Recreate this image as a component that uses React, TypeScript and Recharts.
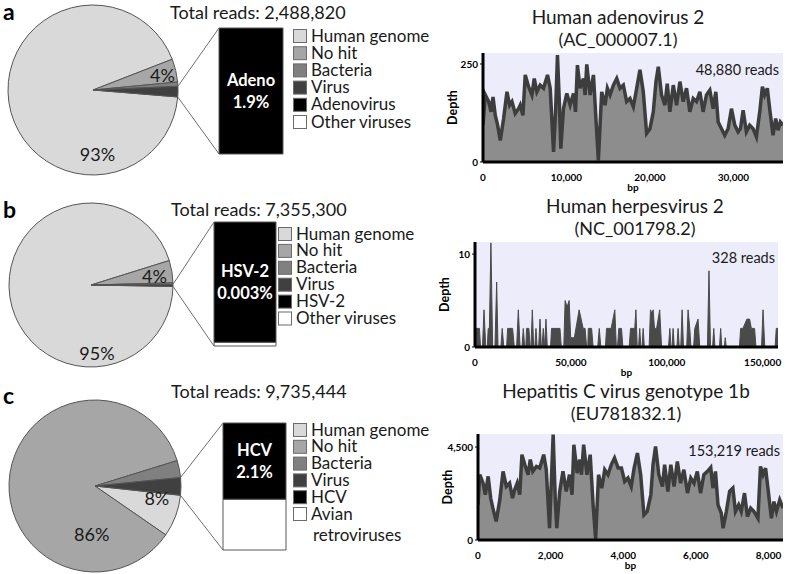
import React from 'react';
import { PieChart, Pie, Cell, BarChart, Bar, XAxis, YAxis, AreaChart, Area, CartesianGrid } from 'recharts';

const FONT = 'Lato, "Noto Sans", sans-serif';

// share of total reads (%), drawn clockwise from the lower edge of the virus wedge
const readCategories = ['Human genome', 'No hit', 'Bacteria', 'Virus'];
const sliceColors = ['#d9d9d9', '#a6a6a6', '#808080', '#404040'];
const sharesA = [92.8, 4.4, 0.8, 2.0];
const sharesB = [94.9, 4.4, 0.3, 0.4];
const sharesC = [7.9, 85.6, 3.2, 3.3];

// split of the viral reads (%): [target virus, other viruses]
const virusSplitA = [100, 0];
const virusSplitB = [97, 3];
const virusSplitC = [60, 40];

const legendA = [...readCategories, 'Adenovirus', 'Other viruses'];
const legendB = [...readCategories, 'HSV-2', 'Other viruses'];
const legendC = [...readCategories, 'HCV', 'Avian retroviruses'];
const legendColors = [...sliceColors, '#000000', '#ffffff'];

// coverage depth along the genome: [bp, depth]
const adenoCoverage = [
  [0, 95], [280, 171], [680, 154], [960, 128], [1200, 166], [1470, 119], [1750, 94], [2070, 55],
  [2470, 111], [2870, 179], [3190, 145], [3470, 154], [3860, 124], [4260, 136], [4460, 145], [4780, 119],
  [5060, 222], [5460, 192], [5860, 171], [6140, 213], [6450, 179], [6850, 196], [7250, 188], [7730, 222],
  [8050, 188], [8450, 26], [8690, 128], [8920, 273], [9160, 145], [9320, 34], [9640, 136], [10040, 175],
  [10440, 145], [10840, 175], [11080, 128], [11310, 247], [11630, 188], [12030, 213], [12230, 171], [12430, 249],
  [12830, 171], [13230, 222], [13550, 102], [13820, 4], [14220, 179], [14620, 145], [14900, 188], [15220, 171],
  [15620, 196], [16020, 213], [16410, 188], [16810, 196], [17210, 154], [17610, 162], [18010, 141], [18410, 188],
  [18800, 235], [19200, 179], [19600, 73], [20000, 85], [20400, 128], [20720, 205], [21000, 243], [21390, 171],
  [21790, 145], [22070, 200], [22390, 128], [22790, 196], [23190, 145], [23590, 205], [23980, 154], [24380, 188],
  [24780, 128], [25180, 162], [25580, 154], [25980, 179], [26370, 128], [26770, 171], [27170, 183], [27570, 136],
  [27890, 179], [28170, 102], [28570, 85], [28960, 68], [29360, 85], [29760, 136], [30160, 94], [30560, 77],
  [30840, 85], [31160, 132], [31550, 77], [31950, 94], [32350, 85], [32750, 64], [33150, 128], [33470, 192],
  [33740, 171], [34060, 188], [34340, 136], [34740, 68], [35060, 111], [35340, 81], [35620, 102], [35937, 94],
];

const hsvCoverage = [
  [0, 0], [500, 2], [2300, 2], [2900, 0], [3900, 0], [4700, 4], [5600, 0],
  [6400, 0], [6900, 2], [7500, 2], [8300, 11.2], [9200, 0], [10400, 0], [11300, 7], [12000, 0],
  [13500, 0], [14200, 2], [15000, 0], [16500, 0], [17000, 2], [19600, 2], [20500, 0],
  [21700, 0], [22600, 4], [23500, 0], [24500, 0], [25200, 2], [25900, 0],
  [26500, 0], [26900, 2], [28100, 2], [28800, 0], [29200, 0], [29900, 4], [30600, 0],
  [31200, 0], [31800, 2], [32400, 0], [33200, 0], [33900, 3], [34600, 0],
  [35000, 0], [35600, 2], [36300, 0], [37000, 3], [37700, 0], [39400, 0], [39900, 2], [44300, 2], [45000, 0],
  [46300, 0], [47000, 5], [48000, 4.3], [49100, 5], [49900, 1], [51800, 1], [54300, 4], [56400, 2], [57400, 2], [58200, 0],
  [58800, 0], [59100, 2], [60800, 2], [61600, 0], [64000, 0], [64800, 2], [65600, 0],
  [68000, 0], [68600, 2], [71000, 2], [72900, 4], [73700, 0], [74300, 0], [75000, 2], [76400, 2], [77100, 0],
  [80400, 0], [81100, 2], [83300, 2], [83900, 4], [84600, 0], [85300, 0], [85900, 2], [86500, 0],
  [87100, 0], [87700, 2], [88300, 0], [90800, 0], [91500, 4], [92200, 3.6], [92900, 4], [93600, 2], [94700, 2], [96300, 4], [97300, 0],
  [100900, 0], [101600, 2], [102200, 0], [102800, 0], [103300, 2], [103900, 0], [105300, 0], [105900, 2], [106500, 0],
  [107300, 0], [108000, 4], [108700, 0], [110400, 0], [111100, 4], [112000, 2], [112600, 0],
  [114000, 0], [114600, 2], [116300, 3], [117200, 0], [121200, 0], [122000, 8.2], [122800, 0],
  [123900, 0], [124500, 2], [125100, 0], [127500, 0], [128100, 2], [128700, 0], [130000, 0], [130500, 1], [131000, 0],
  [137900, 0], [138500, 2], [139700, 2], [141800, 3], [143200, 3], [144100, 2], [145800, 2], [146500, 0],
  [149400, 0], [150200, 4], [151100, 0], [156500, 0], [157100, 2], [158000, 2],
];

const hcvCoverage = [
  [0, 1700], [50, 3160], [140, 2750], [200, 2190], [280, 3080], [350, 2020], [410, 1540], [500, 900],
  [600, 1940], [690, 3320], [780, 2590], [870, 2750], [950, 2020], [1010, 2430], [1080, 2750], [1150, 2190],
  [1210, 4130], [1290, 3640], [1380, 3160], [1440, 3890], [1510, 3320], [1610, 3560], [1700, 3480], [1810, 4130],
  [1880, 3400], [1970, 570], [2070, 5100], [2130, 1860], [2170, 570], [2250, 2350], [2340, 3320], [2430, 2350],
  [2520, 3160], [2590, 2190], [2640, 4610], [2730, 3240], [2800, 3890], [2850, 3160], [2910, 4610], [3000, 3160],
  [3090, 4130], [3170, 1700], [3240, 60], [3320, 3160], [3410, 2510], [3490, 3400], [3580, 3160], [3670, 3640],
  [3760, 3970], [3860, 3480], [3950, 3480], [4040, 2830], [4130, 3000], [4220, 2590], [4300, 3480], [4390, 4210],
  [4480, 3160], [4570, 1210], [4660, 1380], [4760, 2190], [4820, 3640], [4890, 4530], [4980, 3160], [5080, 2590],
  [5140, 3640], [5230, 2350], [5310, 3640], [5400, 2590], [5490, 3800], [5580, 2750], [5670, 3400], [5770, 2270],
  [5860, 3000], [5950, 2750], [6040, 3320], [6130, 2270], [6220, 3160], [6320, 3320], [6410, 3510], [6470, 2510],
  [6540, 3320], [6610, 1700], [6700, 1300], [6750, 570], [6840, 1380], [6930, 2350], [7020, 2510], [7090, 1380],
  [7180, 1700], [7250, 1380], [7340, 2270], [7420, 1130], [7510, 1540], [7600, 1380], [7710, 1050], [7780, 3560],
  [7850, 3160], [7920, 3480], [7990, 2430], [8080, 1050], [8150, 1860], [8220, 1380], [8310, 1940], [8400, 1540],
];

const panels = [
  {
    letter: 'a', letterPos: [3, 19], total: 'Total reads: 2,488,820', totalPos: [170, 19],
    shares: sharesA, split: virusSplitA, legend: legendA,
    pie: { cx: 93, cy: 90, r: 85, start: -4.7, spots: { 0: [-86, 64], 1: [12, 71] } as Record<number, number[]> },
    bar: { x: 219, y: 28, w: 64, h: 126, name: 'Adeno', pct: '1.9%' },
    leg: { x: 293, y: 29, step: 17.2, wrap: false },
    title: 'Human adenovirus 2', acc: '(AC_000007.1)', titleX: 618, titleY: 24, accY: 46,
    reads: '48,880 reads', readsPos: [779, 75],
    coverage: adenoCoverage, xMax: 35937, xTicks: [0, 10000, 20000, 30000], yMax: 278, yTicks: [0, 250], dark: false,
    box: { left: 440, top: 50, width: 347, height: 150, right: 4 },
  },
  {
    letter: 'b', letterPos: [3, 217], total: 'Total reads: 7,355,300', totalPos: [171, 216],
    shares: sharesB, split: virusSplitB, legend: legendB,
    pie: { cx: 91, cy: 285, r: 82, start: -1.0, spots: { 0: [-85, 68], 1: [8, 64] } as Record<number, number[]> },
    bar: { x: 214, y: 222, w: 62, h: 124, name: 'HSV-2', pct: '0.003%' },
    leg: { x: 278, y: 227, step: 16.9, wrap: false },
    title: 'Human herpesvirus 2', acc: '(NC_001798.2)', titleX: 635, titleY: 213, accY: 235,
    reads: '328 reads', readsPos: [775, 263],
    coverage: hsvCoverage, xMax: 158000, xTicks: [0, 50000, 100000, 150000], yMax: 11.3, yTicks: [0, 10], dark: true,
    box: { left: 432, top: 239, width: 355, height: 146, right: 9 },
  },
  {
    letter: 'c', letterPos: [3, 403], total: 'Total reads: 9,735,444', totalPos: [171, 398],
    shares: sharesC, split: virusSplitC, legend: legendC,
    pie: { cx: 95, cy: 486, r: 86, start: -6.2, spots: { 1: [-94, 48], 0: [-11, 63] } as Record<number, number[]> },
    bar: { x: 223, y: 423, w: 63, h: 127, name: 'HCV', pct: '2.1%' },
    leg: { x: 293, y: 423, step: 16.8, wrap: true },
    title: 'Hepatitis C virus genotype 1b', acc: '(EU781832.1)', titleX: 626, titleY: 398, accY: 420,
    reads: '153,219 reads', readsPos: [780, 456],
    coverage: hcvCoverage, xMax: 8400, xTicks: [0, 2000, 4000, 6000, 8000], yMax: 5130, yTicks: [0, 4500], dark: false,
    box: { left: 435, top: 431, width: 352, height: 147, right: 4 },
  },
];

type PanelT = (typeof panels)[number];

const fmt = (v: number) => v.toLocaleString('en-US');

function ReadsPie({ p }: { p: PanelT }) {
  const data = readCategories.map((name, i) => ({ name, value: p.shares[i] }));
  const renderPct = (props: any) => {
    const spot = p.pie.spots[props.index];
    if (!spot) return null;
    const cx = props.cx ?? p.pie.cx;
    const cy = props.cy ?? 100;
    const t = (spot[0] * Math.PI) / 180;
    return (
      <text x={cx + spot[1] * Math.cos(t)} y={cy - spot[1] * Math.sin(t)} textAnchor="middle"
        dominantBaseline="central" fontSize={18} fill="#1a1a1a" fontFamily={FONT}>
        {Math.round(p.shares[props.index])}%
      </text>
    );
  };
  return (
    <div style={{ position: 'absolute', left: 0, top: p.pie.cy - 100 }}>
      <PieChart width={200} height={200} margin={{ top: 0, right: 0, bottom: 0, left: 0 }}>
        <Pie data={data} dataKey="value" cx={p.pie.cx} cy={100} outerRadius={p.pie.r}
          startAngle={p.pie.start} endAngle={p.pie.start - 360} stroke="#555" strokeWidth={1}
          label={renderPct} labelLine={false} isAnimationActive={false}>
          {data.map((d, i) => <Cell key={d.name} fill={sliceColors[i]} />)}
        </Pie>
      </PieChart>
    </div>
  );
}

function ZoomBar({ p }: { p: PanelT }) {
  const { x, y, w, h, name, pct } = p.bar;
  const data = [{ name, target: p.split[0], other: p.split[1] }];
  const renderName = (props: any) => {
    const mx = props.x + props.width / 2;
    const my = props.y + props.height / 2;
    return (
      <g fontFamily={FONT} fontWeight={700} fontSize={16.5} fill="#fff" textAnchor="middle">
        <text x={mx} y={my - 5}>{name}</text>
        <text x={mx} y={my + 17}>{pct}</text>
      </g>
    );
  };
  return (
    <div style={{ position: 'absolute', left: x - 1, top: y - 1 }}>
      <BarChart width={w + 2} height={h + 2} data={data} margin={{ top: 1, right: 1, bottom: 1, left: 1 }} barCategoryGap={0}>
        <XAxis dataKey="name" hide />
        <YAxis hide domain={[0, 100]} />
        <Bar dataKey="other" stackId="v" fill="#ffffff" stroke="#595959" isAnimationActive={false} />
        <Bar dataKey="target" stackId="v" fill="#000000" stroke="#595959" isAnimationActive={false} label={renderName} />
      </BarChart>
    </div>
  );
}

function Coverage({ p }: { p: PanelT }) {
  const data = p.coverage.map(([bp, depth]) => ({ bp, depth }));
  const { left, top, width, height, right } = p.box;
  const tick = { fontSize: 10, fontWeight: 700, fill: '#000', fontFamily: FONT };
  const depthLabel = (props: any) => {
    const vb = props.viewBox;
    const lx = vb.x + 12;
    const ly = vb.y + vb.height / 2;
    return (
      <text x={lx} y={ly} transform={`rotate(-90 ${lx} ${ly})`} textAnchor="middle" dominantBaseline="central"
        fontSize={12.5} fontWeight={700} fontFamily={FONT} fill="#000">Depth</text>
    );
  };
  const bpLabel = (props: any) => {
    const vb = props.viewBox;
    return (
      <text x={vb.x + vb.width / 2} y={vb.y + 29} textAnchor="middle" fontSize={10} fontWeight={700}
        fontFamily={FONT} fill="#000">bp</text>
    );
  };
  return (
    <div style={{ position: 'absolute', left, top }}>
      <AreaChart width={width} height={height} data={data} margin={{ top: 3, right, bottom: 0, left: 0 }}>
        <CartesianGrid horizontal={false} vertical={false} fill="#ececfa" />
        <Area type="linear" dataKey="depth" fill={p.dark ? '#4a4a4a' : '#8d8d8d'} fillOpacity={1}
          stroke={p.dark ? '#4a4a4a' : '#3d3d3d'} strokeWidth={p.dark ? 1 : 3.5} isAnimationActive={false} dot={false} />
        <XAxis type="number" dataKey="bp" domain={[0, p.xMax]} ticks={p.xTicks} interval={0} allowDataOverflow
          tickFormatter={fmt} height={38} axisLine={{ stroke: '#000', strokeWidth: 3 }} tickLine={false}
          tickMargin={6} tick={tick} label={bpLabel} />
        <YAxis type="number" domain={[0, p.yMax]} ticks={p.yTicks} interval={0} allowDataOverflow
          tickFormatter={fmt} width={43} axisLine={{ stroke: '#000', strokeWidth: 3 }}
          tickLine={{ stroke: '#000' }} tickSize={3} tickMargin={2} tick={tick} label={depthLabel} />
      </AreaChart>
    </div>
  );
}

function Overlay() {
  return (
    <svg width={787} height={574} style={{ position: 'absolute', left: 0, top: 0, pointerEvents: 'none' }}
      fontFamily={FONT} fill="#1a1a1a">
      {panels.map((p) => {
        const { cx, cy, r, start } = p.pie;
        const up = ((start + 3.6 * p.shares[3]) * Math.PI) / 180;
        const lo = (start * Math.PI) / 180;
        return (
          <g key={p.letter}>
            <text x={p.letterPos[0]} y={p.letterPos[1] + 1} fontSize={23} fontWeight={700} fill="#000">{p.letter}</text>
            <text x={p.totalPos[0]} y={p.totalPos[1]} fontSize={18}>{p.total}</text>
            <line x1={cx + r * Math.cos(up)} y1={cy - r * Math.sin(up)} x2={p.bar.x} y2={p.bar.y} stroke="#6f6f6f" />
            <line x1={cx + r * Math.cos(lo)} y1={cy - r * Math.sin(lo)} x2={p.bar.x} y2={p.bar.y + p.bar.h} stroke="#6f6f6f" />
            {p.legend.map((label, i) => {
              const y = p.leg.y + i * p.leg.step;
              const lines = p.leg.wrap && i === 5 ? label.split(' ') : [label];
              return (
                <g key={label}>
                  <rect x={p.leg.x + 0.5} y={y + 0.5} width={13} height={13} fill={legendColors[i]} stroke="#6b6b6b" />
                  <text x={p.leg.x + 18} y={y + 12.5} fontSize={17}>{lines[0]}</text>
                  {lines[1] && <text x={p.leg.x + 20} y={y + 34} fontSize={17}>{lines[1]}</text>}
                </g>
              );
            })}
            <text x={p.titleX} y={p.titleY} fontSize={19} textAnchor="middle">{p.title}</text>
            <text x={p.titleX} y={p.accY} fontSize={18} textAnchor="middle">{p.acc}</text>
            <text x={p.readsPos[0]} y={p.readsPos[1]} fontSize={14.5} textAnchor="end">{p.reads}</text>
          </g>
        );
      })}
    </svg>
  );
}

export default function App() {
  return (
    <div style={{ position: 'absolute', left: 0, top: 0, width: 787, height: 574, overflow: 'hidden', background: '#fff', fontFamily: FONT }}>
      {panels.map((p) => (
        <React.Fragment key={p.letter}>
          <ReadsPie p={p} />
          <ZoomBar p={p} />
          <Coverage p={p} />
        </React.Fragment>
      ))}
      <Overlay />
    </div>
  );
}
